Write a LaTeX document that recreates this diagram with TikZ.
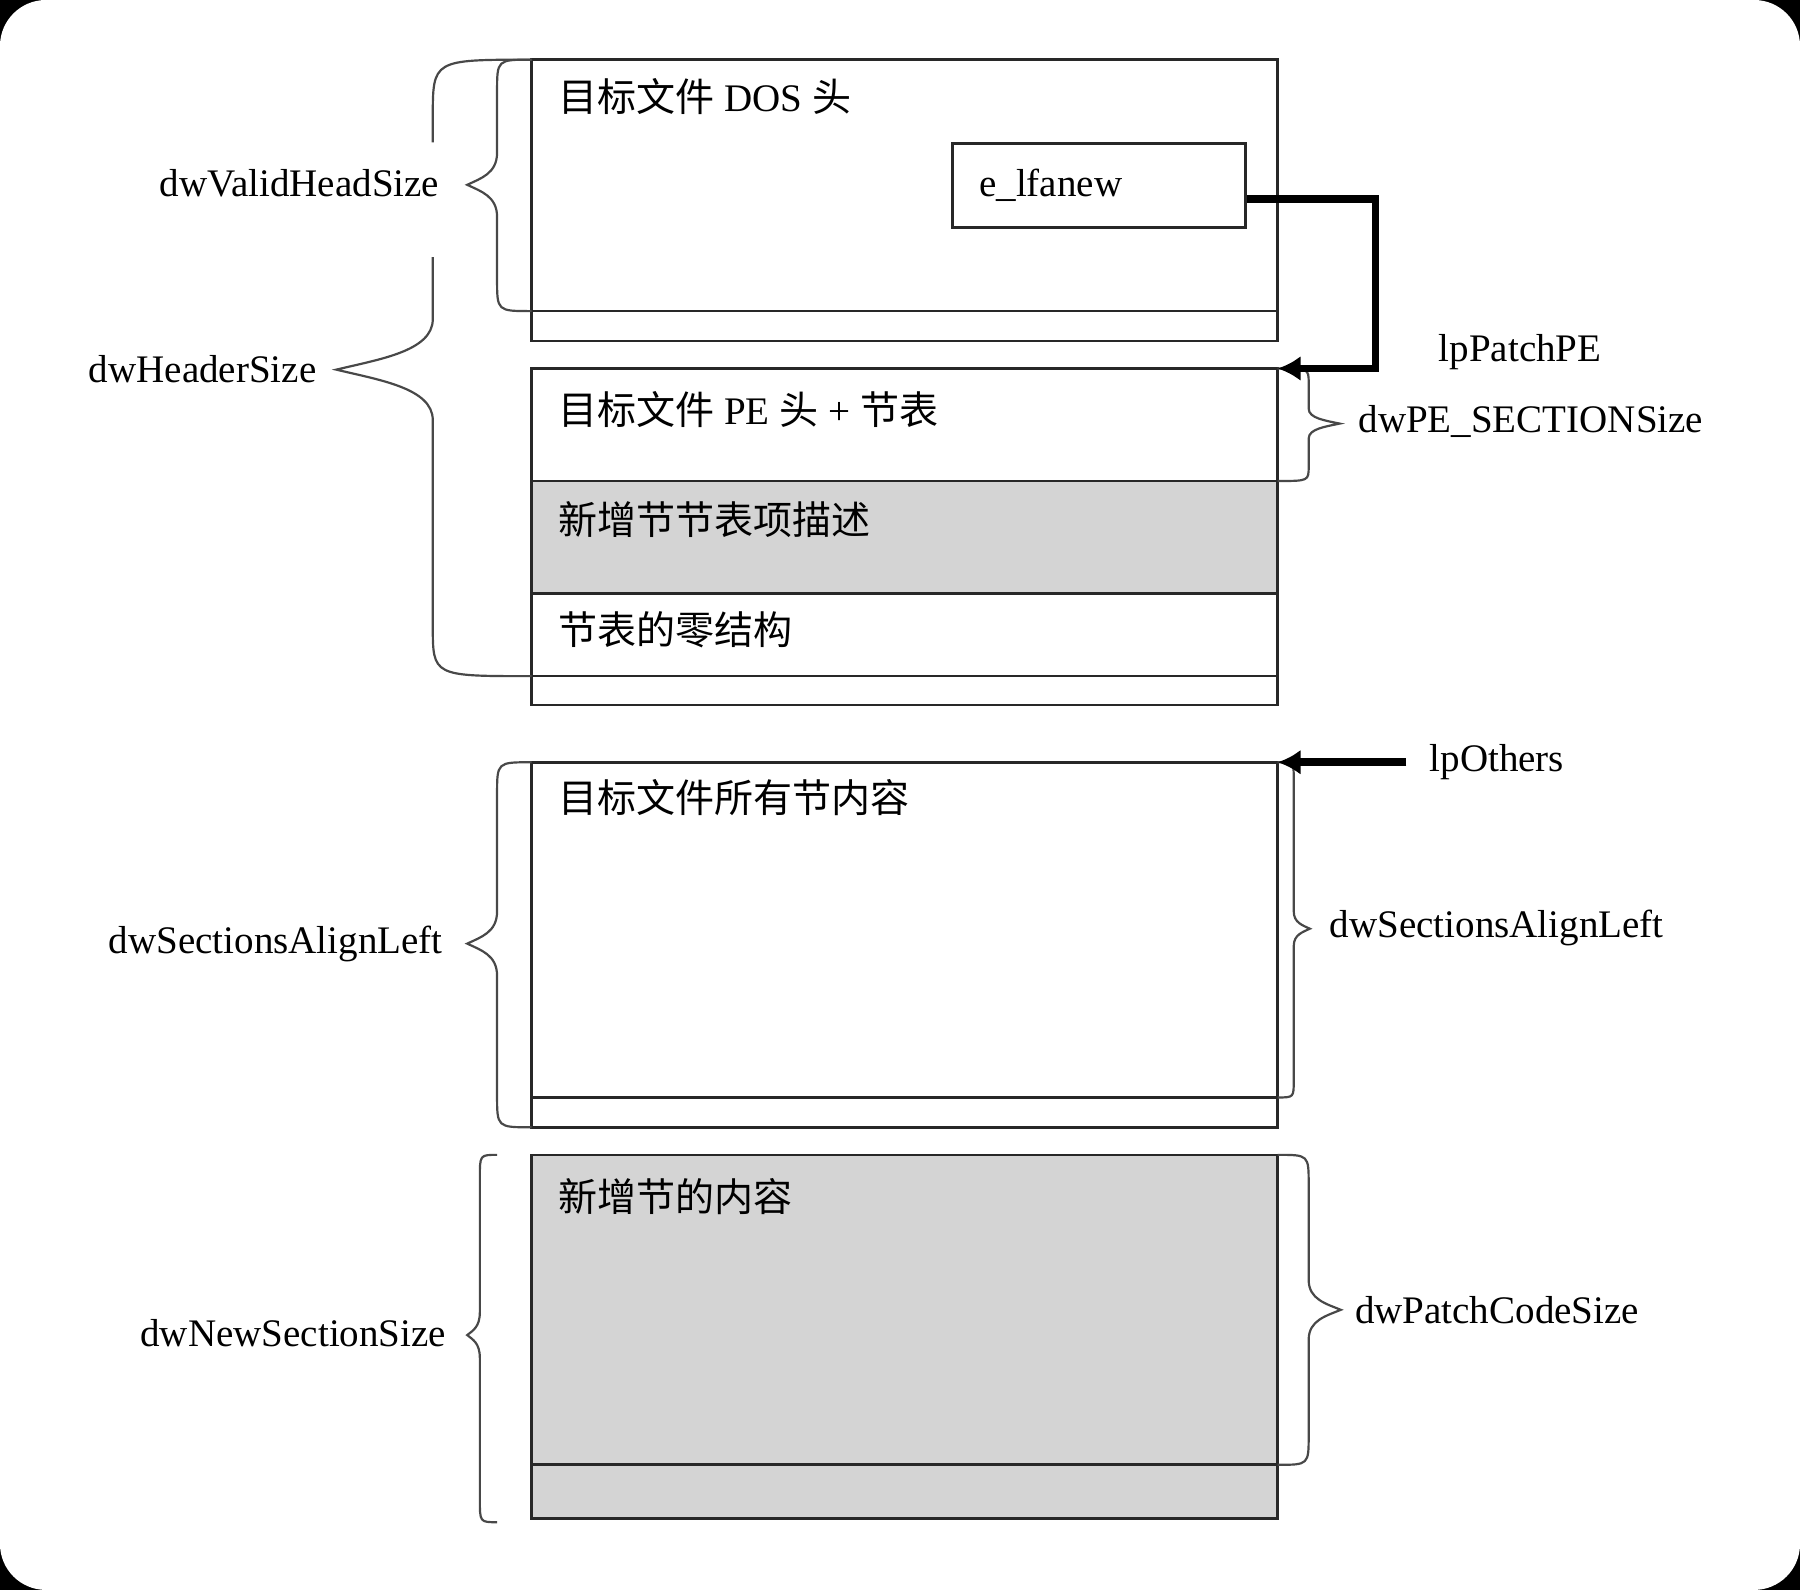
\documentclass[tikz,border=0pt]{standalone}
\usepackage{fontspec}
\setmainfont{Liberation Serif}
\newfontfamily\cjk{Noto Sans CJK SC}
\newcommand\zh[1]{{\cjk #1}}
\usetikzlibrary{arrows.meta}
\definecolor{ink}{RGB}{40,40,40}
\definecolor{boxgray}{RGB}{212,212,212}
\tikzset{
  blk/.style={draw=ink, line width=1.15pt},
  brc/.style={draw=ink!85, line width=0.95pt},
  ptr/.style={draw=black, line width=3.4pt, -{Latex[length=10pt,width=11pt]}},
  txt/.style={inner sep=0pt, font=\fontsize{17pt}{20pt}\selectfont},
}
\newcommand\sizebrace[7]{\draw[brc] (#1,#4) .. controls (#2,#4) .. (#2,#4+#7) -- (#2,#5-#7)
  .. controls (#2,{#5-0.35*#7}) and ({#3+0.45*(#2-#3)},{#5-0.2*#7}) .. (#3,#5)
  .. controls ({#3+0.45*(#2-#3)},{#5+0.2*#7}) and (#2,{#5+0.35*#7}) .. (#2,#5+#7)
  -- (#2,#6-#7) .. controls (#2,#6) .. (#1,#6);}
\begin{document}
\begin{tikzpicture}[x=0.5pt,y=-0.5pt]
  \useasboundingbox (0,0) rectangle (1568,1385);
  \fill[black] (0,0) rectangle (1568,1385);
  \fill[white,rounded corners=20pt] (0,0) rectangle (1568,1385);
  \def\xl{463} \def\xr{1113}
  \path (\xl,52) coordinate (dos) (\xr,297) coordinate (dos')
    (\xl,321) coordinate (pe) (\xr,321) coordinate (peR) (\xr,614) coordinate (pe')
    (\xl,664) coordinate (sec) (\xr,664) coordinate (secR) (\xr,982) coordinate (sec')
    (\xl,1006) coordinate (new) (\xr,1323) coordinate (new');
  \fill[boxgray] (\xl,419) rectangle (\xr,517);
  \fill[boxgray] (new) rectangle (new');
  \draw[blk] (dos) rectangle (dos') (\xl,271) -- (\xr,271);
  \draw[blk] (pe) rectangle (pe') (\xl,419) -- (\xr,419) (\xl,517) -- (\xr,517) (\xl,589) -- (\xr,589);
  \draw[blk] (sec) rectangle (sec') (\xl,956) -- (\xr,956);
  \draw[blk] (new) rectangle (new') (\xl,1276) -- (\xr,1276);
  \node[txt, blk, minimum width=127.5pt, minimum height=36.5pt, inner xsep=11.5pt, text width=104.5pt, align=left] (lf) at (957.5,161.5) {e\_lfanew};
  \foreach \y/\t in {84/{\zh{目标文件} DOS \zh{头}}, 357/{\zh{目标文件} PE \zh{头} + \zh{节表}}, 453/{\zh{新增节节表项描述}},
    549/{\zh{节表的零结构}}, 695/{\zh{目标文件所有节内容}}, 1042/{\zh{新增节的内容}}}
    \node[txt, anchor=west] (t\y) at (486,\y) {\t};
  \node[txt, anchor=east] (vhs) at (383,160) {dwValidHeadSize};
  \node[txt, anchor=east] (hs) at (276,322) {dwHeaderSize};
  \node[txt, anchor=west] (pps) at (1253,307) {lpPatchPE};
  \node[txt, anchor=west] (pss) at (1183,367) {dwPE\_SECTIONSize};
  \node[txt, anchor=west] (oth) at (1245,664) {lpOthers};
  \node[txt, anchor=east] (sal) at (386,822) {dwSectionsAlignLeft};
  \node[txt, anchor=west] (sar) at (1158,808) {dwSectionsAlignLeft};
  \node[txt, anchor=east] (nss) at (389,1161) {dwNewSectionSize};
  \node[txt, anchor=west] (pcs) at (1180,1141) {dwPatchCodeSize};
  \sizebrace{463}{433}{407}{52}{161}{271}{28}
  \draw[brc] (463,52) .. controls (377,52) .. (377,102) -- (377,124);
  \draw[brc] (377,224) -- (377,278) .. controls (377,306) and (330,313) .. (293,322)
    .. controls (330,331) and (377,338) .. (377,366) -- (377,545) .. controls (377,589) .. (463,589);
  \sizebrace{1113}{1140}{1167}{321}{369}{419}{13}
  \sizebrace{463}{433}{407}{664}{822}{982}{28}
  \sizebrace{1113}{1127}{1141}{664}{809}{956}{15}
  \sizebrace{433}{418}{407}{1006}{1163}{1326}{20}
  \sizebrace{1113}{1140}{1168}{1006}{1141}{1276}{26}
  \draw[ptr] ([yshift=-6pt]lf.east) -- ++(112,0) |- (peR);
  \draw[ptr] ([xshift=-10pt]oth.west) -- (secR);
\end{tikzpicture}
\end{document}
